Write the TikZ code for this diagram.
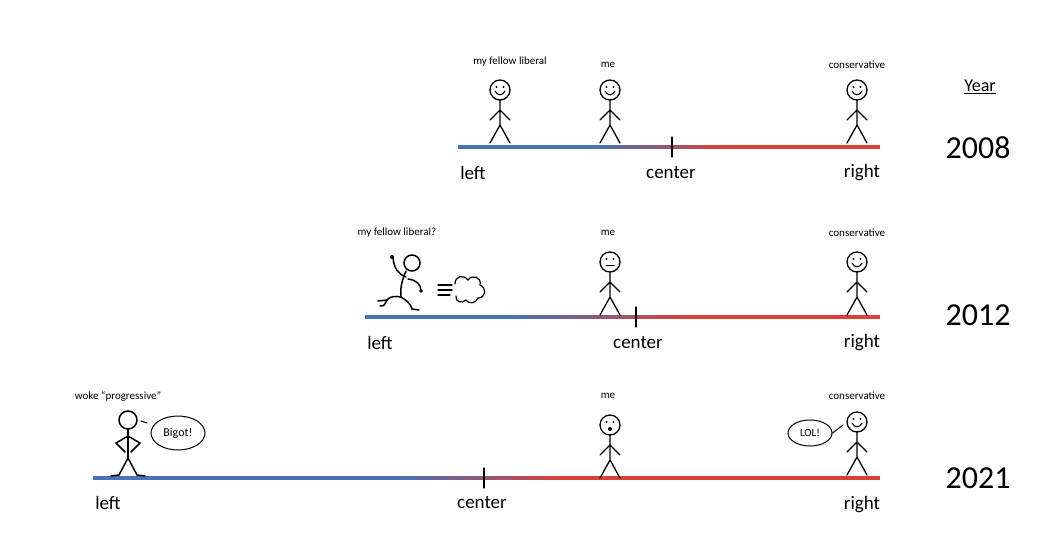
\documentclass[tikz,border=0pt]{standalone}
\usepackage{fontspec}
\setmainfont{Carlito}
\usetikzlibrary{shapes.geometric}
\begin{document}
\begin{tikzpicture}[x=1pt,y=-1pt,line width=1.3pt,line cap=round,
  sm/.style={font=\fontsize{11}{12}\selectfont},
  lab/.style={font=\fontsize{19}{22}\selectfont},
  yr/.style={font=\fontsize{32}{36}\selectfont},
  fig/.pic={\draw (0,0) circle (10); \draw (0,10)--(0,35) (-10,30)--(0,20)--(10,30) (-10,53)--(0,35)--(10,53);},
  smile/.pic={\fill (-3.5,-3) circle (1.2) (3.5,-3) circle (1.2); \draw[line width=1pt] (-5,1) .. controls (-3,6) and (3,6) .. (5,1);},
  flat/.pic={\fill (-3.5,-3) circle (1.2) (3.5,-3) circle (1.2); \draw[line width=1pt] (-4,3)--(4,3);},
  oh/.pic={\fill (-3.5,-3) circle (1.2) (3.5,-3) circle (1.2) (0,4) circle (2);}]
\definecolor{lb}{HTML}{4A72B8}\definecolor{lr}{HTML}{D9403A}
\useasboundingbox (0,0) rectangle (1048,540);
% lines
\newcommand\tl[5]{%
  \fill[lb] (#1,#5-1.6) rectangle (#2,#5+1.6);
  \shade[left color=lb,right color=lr] (#2,#5-1.6) rectangle (#3,#5+1.6);
  \fill[lr] (#3,#5-1.6) rectangle (#4,#5+1.6);}
\tl{458}{600}{720}{880}{147}
\draw (672,137)--(672,157);
\tl{365}{520}{680}{880}{317}
\draw (636,307)--(636,327);
\tl{93}{400}{560}{880}{478}
\draw (484,468)--(484,488);
% 2008
\node[sm] (l1) at (510,62) {my fellow liberal};
\node[sm] (m1) at (608,65) {me};
\node[sm] (c1) at (857,65) {conservative};
\pic at (500,90) {fig}; \pic at (500,90) {smile};
\pic at (610,90) {fig}; \pic at (610,90) {smile};
\pic at (857,90) {fig}; \pic at (857,90) {smile};
\node[lab] (a1) at (473,173) {left};
\node[lab] (b1) at (671,173) {center};
\node[lab] (d1) at (862,173) {right};
% 2012
\node[sm] (l2) at (397,233) {my fellow liberal?};
\node[sm] (m2) at (608,233) {me};
\node[sm] (c2) at (857,233) {conservative};
\pic at (610,262) {fig}; \pic at (610,262) {flat};
\pic at (857,262) {fig}; \pic at (857,262) {smile};
\begin{scope}[line width=1.5pt]
\draw (412,263) circle (8);
\draw (406,271) .. controls (402,280) and (400,288) .. (401,297);
\draw (406,277) .. controls (398,274) and (394,268) .. (393,258);
\fill (392,257) circle (2);
\draw (408,279) .. controls (416,280) and (421,284) .. (421,291);
\fill (421,291) circle (1.8);
\draw (401,297) .. controls (396,296) and (390,296) .. (387,300) .. controls (384,304) and (386,306) .. (380,306);
\draw (387,300) -- (378,301);
\draw (401,297) .. controls (405,300) and (410,302) .. (412,309) -- (419,310);
\end{scope}
\draw[line width=1.2pt] (438,285)--(452,285) (438,290)--(452,290) (438,295)--(450,295);
\draw[line width=1.2pt] (455,284) .. controls (455,276) and (463,274) .. (468,280)
  .. controls (472,274) and (482,277) .. (480,285)
  .. controls (487,288) and (486,298) .. (478,298)
  .. controls (476,304) and (468,304) .. (466,300)
  .. controls (462,304) and (455,302) .. (456,296);
% 2021
\node[sm] (l3) at (118,396) {woke “progressive”};
\node[sm] (m3) at (608,396) {me};
\node[sm] (c3) at (857,396) {conservative};
\pic at (610,425) {fig}; \pic at (610,425) {oh};
\pic at (857,422) {fig}; \pic at (857,422) {smile};
\begin{scope}[line width=1.5pt]
\draw (128,420) circle (9);
\draw (128,429)--(128,458);
\draw (128,436)--(116,443)--(125,452) (128,436)--(140,443)--(131,452);
\draw (128,458)--(119,475)--(111,476) (128,458)--(137,475)--(145,476);
\end{scope}
\draw[line width=1pt] (141,421)--(147,423);
\node[draw,ellipse,line width=1pt,minimum width=54,minimum height=34,inner sep=0,font=\fontsize{12}{13}\selectfont] (bg) at (178,433) {Bigot!};
\node[draw,ellipse,line width=1pt,minimum width=44,minimum height=26,inner sep=0,font=\fontsize{11}{12}\selectfont] (lol) at (810,433) {LOL!};
\draw[line width=1pt] (lol.east) -- (843,425);
\node[lab] (a3) at (108,503) {left};
\node[lab] (b3) at (482,503) {center};
\node[lab] (d3) at (862,505) {right};
\node[lab] (a2) at (380,343) {left};
\node[lab] (b2) at (638,343) {center};
\node[lab] (d2) at (862,343) {right};
% years
\node[font=\fontsize{18}{20}\selectfont] (y) at (980,87) {\underline{Year}};
\node[yr] (y1) at (978,148) {2008};
\node[yr] (y2) at (978,315) {2012};
\node[yr] (y3) at (978,478) {2021};
\end{tikzpicture}
\end{document}
